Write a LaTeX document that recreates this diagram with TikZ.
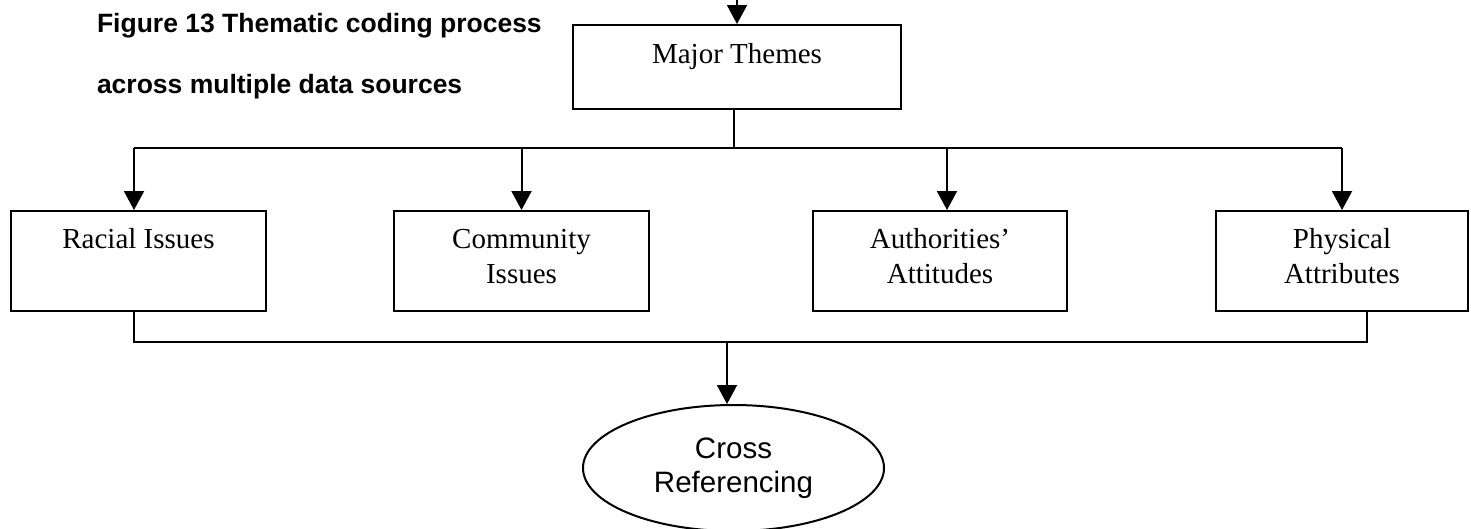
\documentclass[tikz,border=0pt]{standalone}
\usepackage{fontspec}
\setmainfont{Liberation Serif}
\newfontfamily\arialfont{Liberation Sans}
\usetikzlibrary{arrows.meta,shapes.geometric,calc}
\begin{document}
\begin{tikzpicture}[x=1pt,y=-1pt,
  line width=2pt,
  arr/.style={-{Triangle[width=20pt,length=19pt]}},
  boxnode/.style={draw, rectangle, anchor=north west, inner sep=0pt,
    minimum height=100pt, text height=37pt, text depth=63pt,
    font=\fontsize{29}{35}\selectfont},
  titletext/.style={anchor=base west, inner sep=0pt,
    font=\arialfont\bfseries\fontsize{26.5}{30}\selectfont},
  ovalnode/.style={ellipse, draw, inner sep=0pt, align=center,
    font=\arialfont\fontsize{29.5}{34}\selectfont}
]
\useasboundingbox (0,0) rectangle (1471,528);

% title
\node[titletext] (t1) at (96,32) {Figure 13 Thematic coding process};
\node[titletext] (t2) at (96,93) {across multiple data sources};

% major themes
\node[boxnode, minimum width=328pt, minimum height=84pt,
      text height=38pt, text depth=46pt] (major) at (572,24) {Major Themes};

% theme boxes
\node[boxnode, minimum width=255pt] (racial) at (10,210) {Racial Issues};
\node[boxnode, minimum width=255pt] (comm) at (393,210)
  {\begin{tabular}[t]{@{}c@{}}Community\\Issues\end{tabular}};
\node[boxnode, minimum width=254pt] (auth) at (812,210)
  {\begin{tabular}[t]{@{}c@{}}Authorities'\\Attitudes\end{tabular}};
\node[boxnode, minimum width=252pt] (phys) at (1215,210)
  {\begin{tabular}[t]{@{}c@{}}Physical\\Attributes\end{tabular}};

% cross referencing
\node[ovalnode, minimum width=301pt, minimum height=126pt] (cross) at (733.5,468)
  {Cross\\Referencing};

% connectors
\coordinate (topin) at (737,-4);
\coordinate (busA) at (0,148);
\coordinate (busB) at (0,342);
\coordinate (mid) at (727,342);

\draw[arr] (topin) -- (topin |- major.north);
\draw ([xshift=-3pt]major.south) -- ([xshift=-3pt]major.south |- busA);
\draw ([xshift=-4.5pt]racial.north |- busA) -- (phys.north |- busA);
\draw[arr] ([xshift=-4.5pt]racial.north |- busA) -- ([xshift=-4.5pt]racial.north);
\draw[arr] (comm.north |- busA) -- (comm.north);
\draw[arr] ([xshift=7pt]auth.north |- busA) -- ([xshift=7pt]auth.north);
\draw[arr] (phys.north |- busA) -- (phys.north);

\draw ([xshift=-4.5pt]racial.south) -- ([xshift=-4.5pt]racial.south |- busB)
  -- ([xshift=25pt]phys.south |- busB) -- ([xshift=25pt]phys.south);
\draw[arr] (mid) -- (mid |- cross.north);
\end{tikzpicture}
\end{document}
